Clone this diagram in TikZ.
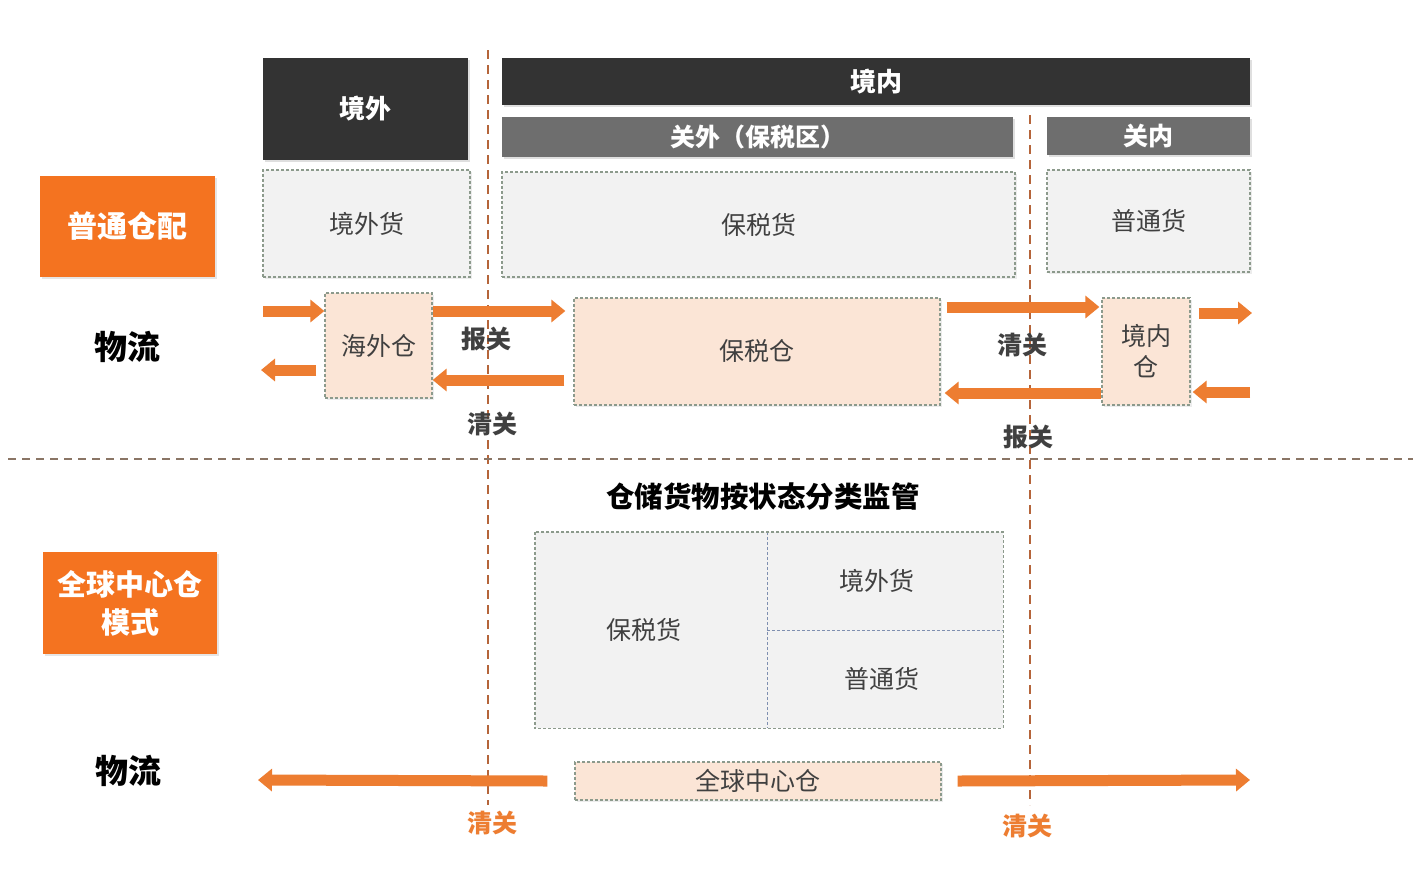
\documentclass[tikz,border=0pt]{standalone}
\usepackage{fontspec}
\setmainfont{Noto Sans CJK SC}
\usetikzlibrary{arrows.meta,shadows}
\definecolor{orbox}{HTML}{F47320}
\definecolor{orarr}{HTML}{ED7D31}
\definecolor{peach}{HTML}{FBE5D6}
\definecolor{lgrey}{HTML}{F2F2F2}
\definecolor{dark}{HTML}{333333}
\definecolor{mgrey}{HTML}{6E6E6E}
\definecolor{bord}{HTML}{8C9A8C}
\definecolor{vline}{HTML}{B5653A}
\definecolor{hline}{HTML}{8A7565}
\definecolor{txt}{HTML}{404040}
\definecolor{divb}{HTML}{7F8FB0}
\tikzset{
  box/.style={minimum width=#1, inner sep=0pt, anchor=center, align=center},
  darkbox/.style={fill=dark, text=white, font=\bfseries\fontsize{26}{30}\selectfont, drop shadow={shadow xshift=2pt,shadow yshift=-2pt,opacity=0.25}},
  greybox/.style={fill=mgrey, text=white, font=\bfseries\fontsize{25}{30}\selectfont, drop shadow={shadow xshift=2pt,shadow yshift=-2pt,opacity=0.25}},
  goodbox/.style={fill=lgrey, draw=bord, densely dashed, line width=1.3pt, text=txt, font=\fontsize{25}{30}\selectfont, drop shadow={shadow xshift=1.5pt,shadow yshift=-1.5pt,opacity=0.15}},
  whbox/.style={fill=peach, draw=bord, densely dashed, line width=1.3pt, text=txt, font=\fontsize{25}{30}\selectfont, drop shadow={shadow xshift=1.5pt,shadow yshift=-1.5pt,opacity=0.15}},
  orangebox/.style={fill=orbox, text=white, font=\bfseries\fontsize{30}{36}\selectfont, drop shadow={shadow xshift=2pt,shadow yshift=-2pt,opacity=0.2}},
  wuliu/.style={text=black, font=\bfseries\fontsize{33}{36}\selectfont},
  cust/.style={text=txt, font=\bfseries\fontsize{25}{30}\selectfont},
  ocust/.style={text=orarr, font=\bfseries\fontsize{25}{30}\selectfont},
  lowgood/.style={fill=lgrey, text=txt, font=\fontsize{25}{30}\selectfont, inner sep=0pt, anchor=center},
  arr/.style={draw=orarr, line width=11pt, -{Triangle[length=14pt,width=22pt]}},
  vdash/.style={draw=vline, line width=1.6pt, dash pattern=on 9pt off 6pt},
  hdash/.style={draw=hline, line width=1.6pt, dash pattern=on 8pt off 6pt},
}
\begin{document}
\begin{tikzpicture}[x=1pt,y=-1pt]
\useasboundingbox[fill=white] (0,0) rectangle (1413,879);
% dashed separators
\coordinate (vl1t) at (488,50);
\coordinate (vl1b) at (488,805);
\coordinate (vl2t) at (1030,115);
\coordinate (vl2b) at (1030,805);
\coordinate (hll) at (8,459);
\coordinate (hlr) at (1413,459);
\draw[vdash] (vl1t) -- (vl1b);
\draw[vdash] (vl2t) -- (vl2b);
\draw[hdash] (hll) -- (hlr);
% header boxes
\node[darkbox, box=205pt, minimum height=102pt] (jw) at (365.5,109) {境外};
\node[darkbox, box=748pt, minimum height=47pt] (jn) at (876,81.5) {境内};
\node[greybox, box=511pt, minimum height=40pt] (gw) at (757.5,137) {关外（保税区）};
\node[greybox, box=203pt, minimum height=38pt] (gn) at (1148.5,136) {关内};
% goods boxes
\node[goodbox, box=207pt, minimum height=107pt] (jwh) at (366.5,223.5) {境外货};
\node[goodbox, box=513pt, minimum height=105pt] (bsh) at (758.5,224.5) {保税货};
\node[goodbox, box=203pt, minimum height=102pt] (pth) at (1148.5,221) {普通货};
% left labels
\node[orangebox, box=175pt, minimum height=101pt] (ptcp) at (127.5,226.5) {普通仓配};
\node[wuliu] (wl1) at (127,347) {物流};
% warehouses
\node[whbox, box=107pt, minimum height=105pt] (hwc) at (378.5,345.5) {海外仓};
\node[whbox, box=366pt, minimum height=107pt] (bsc) at (757,351.5) {保税仓};
\node[whbox, box=88pt, minimum height=107pt, font=\fontsize{25}{31}\selectfont] (jnc) at (1146,351.5) {境内\\仓};
% upper arrows
\coordinate (a1s) at (263,311);
\coordinate (a2e) at (261,370);
\coordinate (a7e) at (1252,313);
\coordinate (a8s) at (1250,392);
\draw[arr] (a1s) -- (hwc.west |- a1s);
\draw[arr] (hwc.west |- a2e) ++(-8,0) -- (a2e);
\draw[arr] (hwc.east |- 0,311) -- ([xshift=-8pt]bsc.west |- 0,311);
\draw[arr] ([xshift=-9pt]bsc.west |- 0,380) -- (hwc.east |- 0,380);
\draw[arr] ([xshift=6pt]bsc.east |- 0,307) -- ([xshift=-2pt]jnc.west |- 0,307);
\draw[arr] (jnc.west |- 0,393) -- ([xshift=4pt]bsc.east |- 0,393);
\draw[arr] ([xshift=8pt]jnc.east |- a7e) -- (a7e);
\draw[arr] (a8s) -- ([xshift=2pt]jnc.east |- a8s);
% customs labels
\node[cust] (bg1) at (486,339) {报关};
\node[cust] (qg1) at (492,424) {清关};
\node[cust] (qg2) at (1022,345) {清关};
\node[cust] (bg2) at (1028,437) {报关};
% lower section
\node[text=black, font=\bfseries\fontsize{28.5}{32}\selectfont] (title) at (763,497) {仓储货物按状态分类监管};
\node[lowgood, minimum width=232pt, minimum height=196pt] (gbs) at (651,630) {\hspace*{-14pt}保税货};
\node[lowgood, minimum width=236pt, minimum height=98pt] (gjw) at (885,581) {\hspace*{-16pt}境外货};
\node[lowgood, minimum width=236pt, minimum height=98pt] (gpt) at (885,679) {\hspace*{-6pt}普通货};
\draw[divb, densely dashed, line width=1.2pt] (gbs.north east) -- (gbs.south east);
\draw[divb, densely dashed, line width=1.2pt] (gjw.south west) -- (gjw.south east);
\draw[bord, densely dashed, line width=1.4pt] (gbs.north west) rectangle (gpt.south east);
\node[orangebox, box=174pt, minimum height=102pt, align=center, font=\bfseries\fontsize{29}{38}\selectfont] (qqms) at (130,603) {全球中心仓\\模式};
\node[wuliu] (wl2) at (128,771) {物流};
\node[whbox, box=366pt, minimum height=38pt] (qqc) at (758,781) {全球中心仓};
\coordinate (b1e) at (258,780);
\coordinate (b2e) at (1250,780);
\draw[arr] ([xshift=-27pt]qqc.west) -- (b1e);
\draw[arr] ([xshift=16pt]qqc.east) -- (b2e);
\node[ocust] (qg3) at (492,823) {清关};
\node[ocust] (qg4) at (1027,826) {清关};
\end{tikzpicture}
\end{document}
